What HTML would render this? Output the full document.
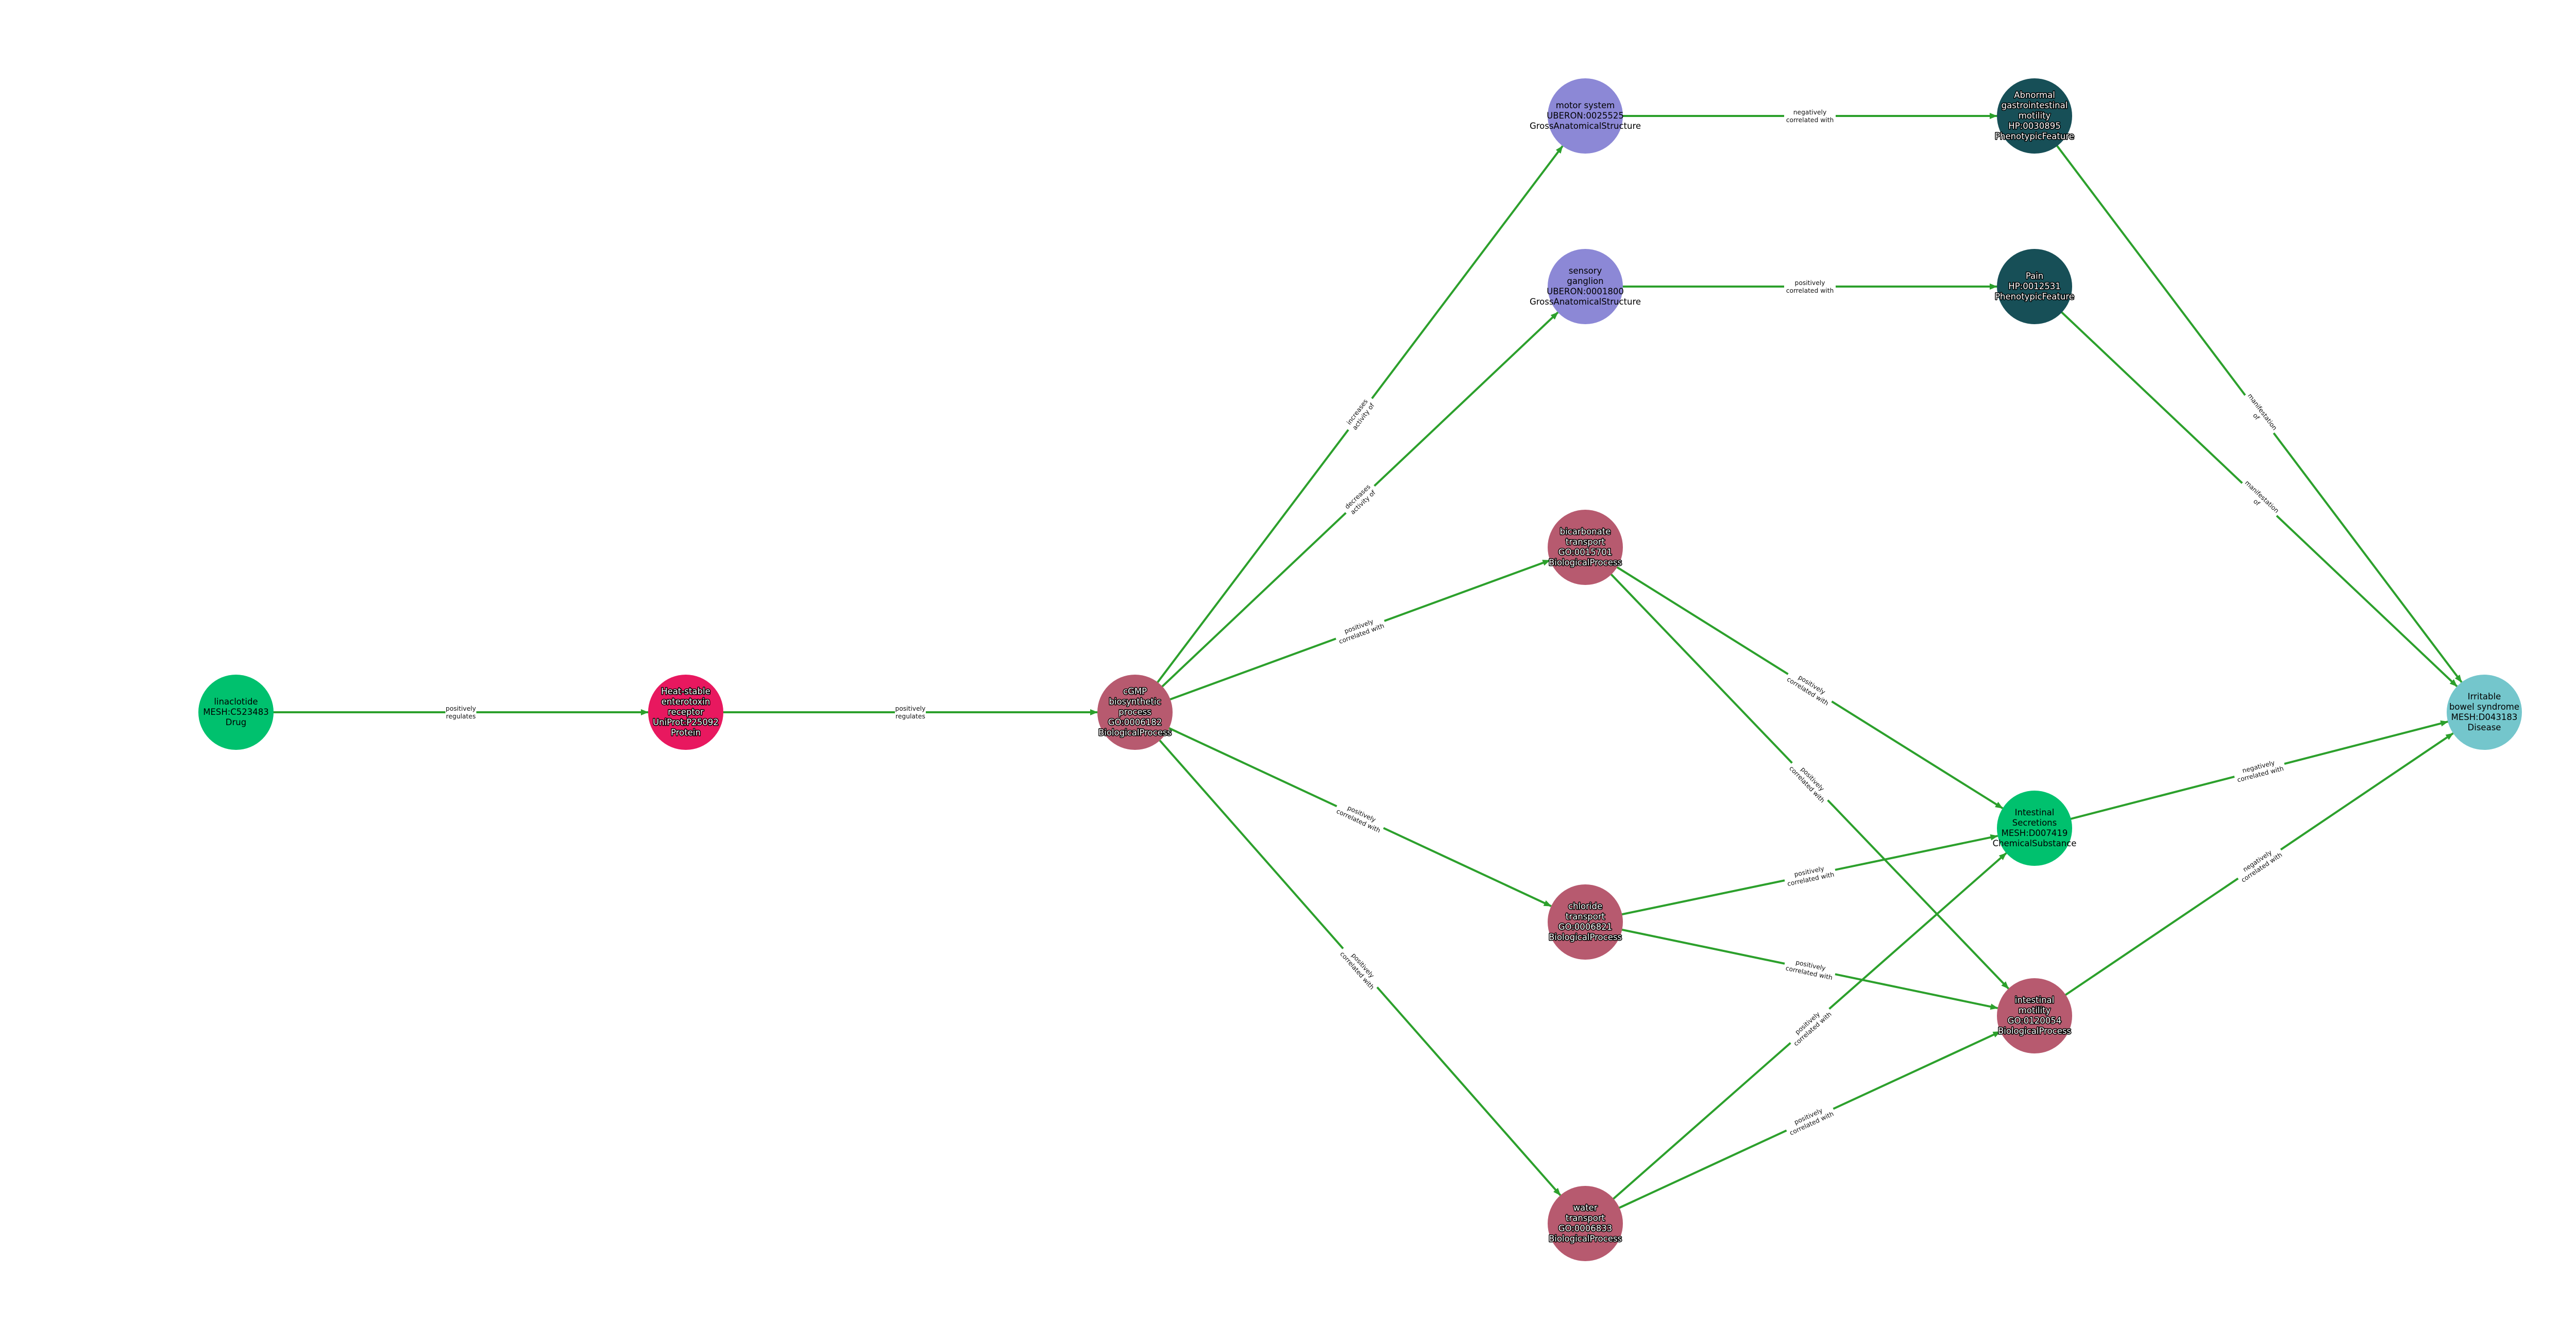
<!DOCTYPE html>
<html><head><meta charset="utf-8"><style>
html,body{margin:0;padding:0;background:#fff;}
svg{display:block;}
.n{font-family:"DejaVu Sans","Liberation Sans",sans-serif;font-size:16.5px;text-anchor:middle;}
.w{fill:#fff;stroke:#000;stroke-width:3px;paint-order:stroke;stroke-linejoin:round;}
.b{fill:#000;}
.e{font-family:"DejaVu Sans","Liberation Sans",sans-serif;font-size:12.3px;text-anchor:middle;fill:#111;}
line{stroke:#2ca02c;stroke-width:4;}
</style></head><body>
<svg width="5280" height="2600" viewBox="0 0 5280 2600" xmlns="http://www.w3.org/2000/svg">
<defs><marker id="a" markerUnits="userSpaceOnUse" markerWidth="16" markerHeight="14" refX="14" refY="7" orient="auto"><path d="M0,1 L15,7 L0,13 Z" fill="#2ca02c"/></marker></defs>
<g marker-end="url(#a)">
<line x1="458" y1="1382" x2="1258" y2="1382"/>
<line x1="1331" y1="1382" x2="2130" y2="1382"/>
<line x1="2203" y1="1382" x2="3033" y2="283.3"/>
<line x1="2203" y1="1382" x2="3023.9" y2="606.1"/>
<line x1="2203" y1="1382" x2="3008.4" y2="1087.1"/>
<line x1="2203" y1="1382" x2="3010.8" y2="1758.2"/>
<line x1="2203" y1="1382" x2="3028.7" y2="2319.2"/>
<line x1="3077" y1="225" x2="3876" y2="225"/>
<line x1="3077" y1="556" x2="3876" y2="556"/>
<line x1="3077" y1="1062" x2="3887.1" y2="1568.3"/>
<line x1="3077" y1="1062" x2="3898.5" y2="1918.3"/>
<line x1="3077" y1="1789" x2="3877.5" y2="1621.9"/>
<line x1="3077" y1="1789" x2="3877.5" y2="1956.1"/>
<line x1="3077" y1="2374" x2="3894.2" y2="1655.2"/>
<line x1="3077" y1="2374" x2="3882.7" y2="2001.6"/>
<line x1="3949" y1="225" x2="4778" y2="1323.7"/>
<line x1="3949" y1="556" x2="4769" y2="1331.8"/>
<line x1="3949" y1="1607" x2="4751.3" y2="1400.2"/>
<line x1="3949" y1="1971" x2="4761.5" y2="1422.8"/>
</g>
<g class="e">
<g transform="translate(894.5,1382)"><rect x="-30" y="-17" width="60" height="34" fill="#fff"/><text y="-3">positively</text><text y="12">regulates</text></g>
<g transform="translate(1767,1382)"><rect x="-30" y="-17" width="60" height="34" fill="#fff"/><text y="-3">positively</text><text y="12">regulates</text></g>
<g transform="translate(2640,803.5) rotate(-52.93)"><rect x="-38" y="-17" width="76" height="34" fill="#fff"/><text y="-3">increases</text><text y="12">activity of</text></g>
<g transform="translate(2640,969) rotate(-43.38)"><rect x="-38" y="-17" width="76" height="34" fill="#fff"/><text y="-3">decreases</text><text y="12">activity of</text></g>
<g transform="translate(2640,1222) rotate(-20.11)"><rect x="-50" y="-17" width="100" height="34" fill="#fff"/><text y="-3">positively</text><text y="12">correlated with</text></g>
<g transform="translate(2640,1585.5) rotate(24.97)"><rect x="-50" y="-17" width="100" height="34" fill="#fff"/><text y="-3">positively</text><text y="12">correlated with</text></g>
<g transform="translate(2640,1878) rotate(48.61)"><rect x="-50" y="-17" width="100" height="34" fill="#fff"/><text y="-3">positively</text><text y="12">correlated with</text></g>
<g transform="translate(3513,225)"><rect x="-50" y="-17" width="100" height="34" fill="#fff"/><text y="-3">negatively</text><text y="12">correlated with</text></g>
<g transform="translate(3513,556)"><rect x="-50" y="-17" width="100" height="34" fill="#fff"/><text y="-3">positively</text><text y="12">correlated with</text></g>
<g transform="translate(3513,1334.5) rotate(32.0)"><rect x="-50" y="-17" width="100" height="34" fill="#fff"/><text y="-3">positively</text><text y="12">correlated with</text></g>
<g transform="translate(3513,1516.5) rotate(46.19)"><rect x="-50" y="-17" width="100" height="34" fill="#fff"/><text y="-3">positively</text><text y="12">correlated with</text></g>
<g transform="translate(3513,1698) rotate(-11.79)"><rect x="-50" y="-17" width="100" height="34" fill="#fff"/><text y="-3">positively</text><text y="12">correlated with</text></g>
<g transform="translate(3513,1880) rotate(11.79)"><rect x="-50" y="-17" width="100" height="34" fill="#fff"/><text y="-3">positively</text><text y="12">correlated with</text></g>
<g transform="translate(3513,1990.5) rotate(-41.33)"><rect x="-50" y="-17" width="100" height="34" fill="#fff"/><text y="-3">positively</text><text y="12">correlated with</text></g>
<g transform="translate(3513,2172.5) rotate(-24.81)"><rect x="-50" y="-17" width="100" height="34" fill="#fff"/><text y="-3">positively</text><text y="12">correlated with</text></g>
<g transform="translate(4385.5,803.5) rotate(52.96)"><rect x="-46" y="-17" width="92" height="34" fill="#fff"/><text y="-3">manifestation</text><text y="12">of</text></g>
<g transform="translate(4385.5,969) rotate(43.42)"><rect x="-46" y="-17" width="92" height="34" fill="#fff"/><text y="-3">manifestation</text><text y="12">of</text></g>
<g transform="translate(4385.5,1494.5) rotate(-14.45)"><rect x="-50" y="-17" width="100" height="34" fill="#fff"/><text y="-3">negatively</text><text y="12">correlated with</text></g>
<g transform="translate(4385.5,1676.5) rotate(-34.0)"><rect x="-50" y="-17" width="100" height="34" fill="#fff"/><text y="-3">negatively</text><text y="12">correlated with</text></g>
</g>
<g>
<circle cx="458" cy="1382" r="73" fill="#00c16e"/>
<circle cx="1331" cy="1382" r="73" fill="#e8185f"/>
<circle cx="2203" cy="1382" r="73" fill="#b75a6f"/>
<circle cx="3077" cy="225" r="73" fill="#8c88d6"/>
<circle cx="3077" cy="556" r="73" fill="#8c88d6"/>
<circle cx="3077" cy="1062" r="73" fill="#b75a6f"/>
<circle cx="3077" cy="1789" r="73" fill="#b75a6f"/>
<circle cx="3077" cy="2374" r="73" fill="#b75a6f"/>
<circle cx="3949" cy="225" r="73" fill="#174f57"/>
<circle cx="3949" cy="556" r="73" fill="#174f57"/>
<circle cx="3949" cy="1607" r="73" fill="#00c16e"/>
<circle cx="3949" cy="1971" r="73" fill="#b75a6f"/>
<circle cx="4822" cy="1382" r="73" fill="#74c6cc"/>
</g>
<g class="n">
<text class="b" x="458" y="1367">linaclotide</text><text class="b" x="458" y="1387">MESH:C523483</text><text class="b" x="458" y="1407">Drug</text>
<g class="w"><text x="1331" y="1347">Heat-stable</text><text x="1331" y="1367">enterotoxin</text><text x="1331" y="1387">receptor</text><text x="1331" y="1407">UniProt:P25092</text><text x="1331" y="1427">Protein</text></g>
<g class="w"><text x="2203" y="1347">cGMP</text><text x="2203" y="1367">biosynthetic</text><text x="2203" y="1387">process</text><text x="2203" y="1407">GO:0006182</text><text x="2203" y="1427">BiologicalProcess</text></g>
<text class="b" x="3077" y="210">motor system</text><text class="b" x="3077" y="230">UBERON:0025525</text><text class="b" x="3077" y="250">GrossAnatomicalStructure</text>
<text class="b" x="3077" y="531">sensory</text><text class="b" x="3077" y="551">ganglion</text><text class="b" x="3077" y="571">UBERON:0001800</text><text class="b" x="3077" y="591">GrossAnatomicalStructure</text>
<g class="w"><text x="3077" y="1037">bicarbonate</text><text x="3077" y="1057">transport</text><text x="3077" y="1077">GO:0015701</text><text x="3077" y="1097">BiologicalProcess</text></g>
<g class="w"><text x="3077" y="1764">chloride</text><text x="3077" y="1784">transport</text><text x="3077" y="1804">GO:0006821</text><text x="3077" y="1824">BiologicalProcess</text></g>
<g class="w"><text x="3077" y="2349">water</text><text x="3077" y="2369">transport</text><text x="3077" y="2389">GO:0006833</text><text x="3077" y="2409">BiologicalProcess</text></g>
<g class="w"><text x="3949" y="190">Abnormal</text><text x="3949" y="210">gastrointestinal</text><text x="3949" y="230">motility</text><text x="3949" y="250">HP:0030895</text><text x="3949" y="270">PhenotypicFeature</text></g>
<g class="w"><text x="3949" y="541">Pain</text><text x="3949" y="561">HP:0012531</text><text x="3949" y="581">PhenotypicFeature</text></g>
<text class="b" x="3949" y="1582">Intestinal</text><text class="b" x="3949" y="1602">Secretions</text><text class="b" x="3949" y="1622">MESH:D007419</text><text class="b" x="3949" y="1642">ChemicalSubstance</text>
<g class="w"><text x="3949" y="1946">intestinal</text><text x="3949" y="1966">motility</text><text x="3949" y="1986">GO:0120054</text><text x="3949" y="2006">BiologicalProcess</text></g>
<text class="b" x="4822" y="1357">Irritable</text><text class="b" x="4822" y="1377">bowel syndrome</text><text class="b" x="4822" y="1397">MESH:D043183</text><text class="b" x="4822" y="1417">Disease</text>
</g>
</svg>
</body></html>
